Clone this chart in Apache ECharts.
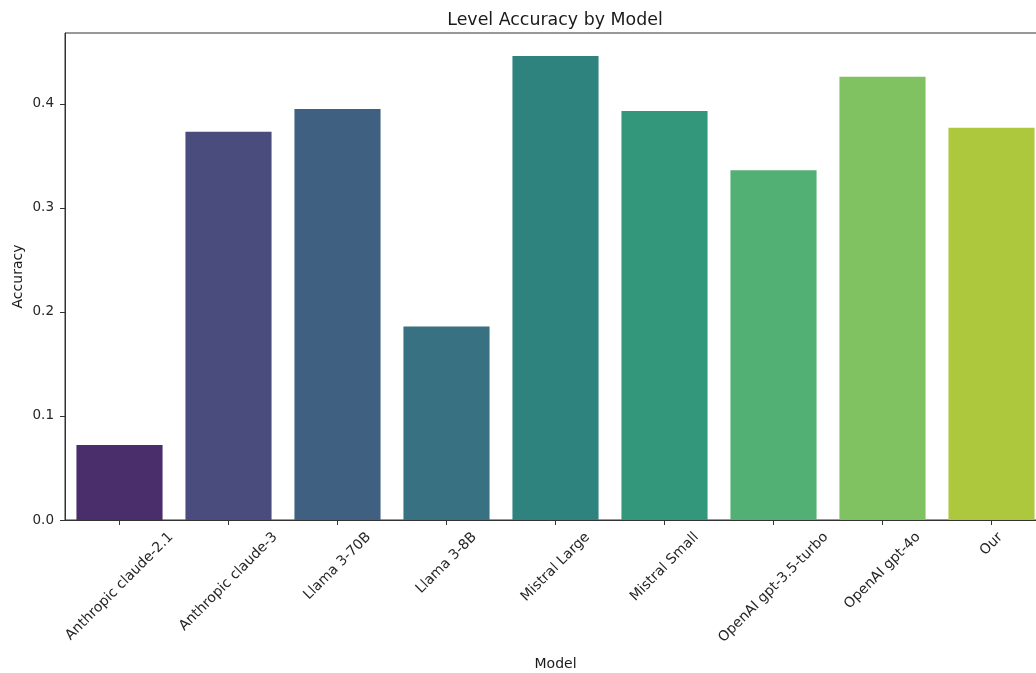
<!DOCTYPE html>
<html>
<head>
<meta charset="utf-8">
<script src="https://cdn.jsdelivr.net/npm/echarts@6/dist/echarts.min.js"></script>
<style>
html,body{margin:0;padding:0;background:#fff;}
#c{width:1036px;height:673px;}
</style>
</head>
<body>
<div id="c"></div>
<script>
const categories = ["Anthropic claude-2.1","Anthropic claude-3","Llama 3-70B","Llama 3-8B","Mistral Large","Mistral Small","OpenAI gpt-3.5-turbo","OpenAI gpt-4o","Our"];
const accuracy = [0.072, 0.373, 0.395, 0.186, 0.446, 0.393, 0.336, 0.426, 0.377];
const yTicks = [0, 0.1, 0.2, 0.3, 0.4];
const palette = ["#492e6b","#4a4c7e","#406082","#377182","#2f837f","#33977c","#53b074","#80c161","#aec83d"];

const FONT = '"DejaVu Sans", sans-serif';
const xTickFont = 14;
const yTickFont = 13.5;
const cv = document.createElement('canvas').getContext('2d');
cv.font = xTickFont + 'px "DejaVu Sans"';
const rich = {};
categories.forEach((c, i) => {
  const w = cv.measureText(c).width;
  const p = 0.5 * (w + xTickFont * 1.15);
  rich['t' + i] = { fontSize: xTickFont, fontFamily: FONT, color: '#262626', padding: [p, p, 0, 0] };
});

const chart = echarts.init(document.getElementById('c'), null, {renderer: 'canvas'});
chart.setOption({
  animation: false,
  backgroundColor: '#fff',
  color: palette,
  title: {
    text: 'Level Accuracy by Model',
    left: 550, top: 7, textAlign: 'center',
    textStyle: {fontFamily: FONT, fontSize: 17.4, fontWeight: 'normal', color: '#1a1a1a'}
  },
  grid: {left: 65, top: 33, right: -10, bottom: 153, show: true, borderColor: '#333', borderWidth: 1, containLabel: false, outerBoundsMode: 'none'},
  xAxis: {
    type: 'category',
    data: categories,
    name: 'Model', nameLocation: 'middle', nameGap: 137, nameMoveOverlap: false,
    nameTextStyle: {fontFamily: FONT, fontSize: 14, color: '#1a1a1a'},
    axisLine: {lineStyle: {color: '#333', width: 1}},
    axisTick: {show: true, alignWithLabel: true, length: 5, lineStyle: {color: '#333'}},
    axisLabel: {
      interval: 0, rotate: 45, margin: 9.3, align: 'center', verticalAlign: 'middle',
      formatter: (v, i) => '{t' + i + '|' + v + '}',
      rich: rich
    }
  },
  yAxis: {
    type: 'value', min: 0, max: 0.468, interval: 0.1,
    name: 'Accuracy', nameLocation: 'middle', nameGap: 40, nameMoveOverlap: false,
    nameTextStyle: {fontFamily: FONT, fontSize: 14, color: '#1a1a1a'},
    splitLine: {show: false},
    axisLine: {show: true, lineStyle: {color: '#333', width: 1}},
    axisTick: {show: true, length: 5, lineStyle: {color: '#333'}, customValues: yTicks},
    axisLabel: {customValues: yTicks, margin: 11, fontFamily: FONT, fontSize: yTickFont, color: '#262626', formatter: v => v.toFixed(1)}
  },
  series: [{
    type: 'bar',
    colorBy: 'data',
    data: accuracy,
    barCategoryGap: '21%'
  }]
});
</script>
</body>
</html>
